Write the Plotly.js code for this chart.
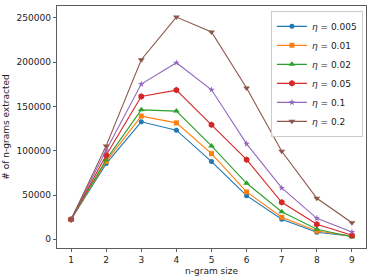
<!DOCTYPE html>
<html><head><meta charset="utf-8">
<script src="https://cdn.plot.ly/plotly-3.0.1.min.js"></script>
<style>html,body{margin:0;padding:0;background:#fff}#c{width:374px;height:280px}</style>
</head><body><div id="c"></div>
<script>
const ngramSize = [1,2,3,4,5,6,7,8,9];
const seriesNames = ["<i>η</i> = 0.005","<i>η</i> = 0.01","<i>η</i> = 0.02","<i>η</i> = 0.05","<i>η</i> = 0.1","<i>η</i> = 0.2"];
const eta0005 = [22500, 85500, 132700, 123300, 87800, 49300, 22600, 7900, 3400];
const eta001  = [22500, 88000, 139100, 131500, 96800, 53500, 24900, 9400, 3800];
const eta002  = [22500, 90000, 146200, 144800, 105500, 63300, 31200, 11300, 3000];
const eta005  = [22500, 95000, 161300, 168500, 129300, 90000, 41800, 17000, 4500];
const eta01   = [22500, 100500, 175300, 199400, 168900, 107800, 58000, 23700, 8300];
const eta02   = [22500, 105500, 202800, 251000, 234100, 170800, 99500, 46400, 18800];
const allSeries = [eta0005, eta001, eta002, eta005, eta01, eta02];
const colors = ["#1f77b4","#ff7f0e","#2ca02c","#d62728","#9467bd","#8c564b"];
const symbols = ["circle","square","triangle-up","hexagon","star","triangle-down"];
const sizes = [5,5,6,6.5,5,6];
const traces = allSeries.map((ys,i)=>({
  x: ngramSize, y: ys, type:'scatter', mode:'lines+markers', name: seriesNames[i],
  line:{color:colors[i], width:1.1},
  marker:{color:colors[i], symbol:symbols[i], size:sizes[i]}
}));
const axFont = {family:'"DejaVu Sans", sans-serif', size:9, color:'#222'};
const layout = {
  width:374, height:280,
  margin:{l:57, r:8, t:6, b:32},
  paper_bgcolor:'#fff', plot_bgcolor:'#fff',
  showlegend:true,
  legend:{x:0.99, y:0.98, xanchor:'right', yanchor:'top', bgcolor:'rgba(255,255,255,0.8)',
    bordercolor:'#ccc', borderwidth:1, font:{family:'"DejaVu Sans", sans-serif', size:9, color:'#222'},
    tracegroupgap:0, itemwidth:30},
  xaxis:{range:[0.6,9.4], tickvals:ngramSize, ticks:'outside', ticklen:3.5, tickwidth:0.8, tickcolor:'#333',
    showline:true, mirror:true, linecolor:'#333', linewidth:0.8, showgrid:false, zeroline:false,
    tickfont:axFont, title:{text:'n-gram size', font:axFont, standoff:3}},
  yaxis:{range:[-9800,263500], tickvals:[0,50000,100000,150000,200000,250000], ticks:'outside', ticklen:3.5,
    tickwidth:0.8, tickcolor:'#333', showline:true, mirror:true, linecolor:'#333', linewidth:0.8,
    showgrid:false, zeroline:false, tickfont:axFont, tickformat:'d',
    title:{text:'# of n-grams extracted', font:axFont, standoff:5}},
  font:axFont
};
Plotly.newPlot('c', traces, layout, {displayModeBar:false, staticPlot:true});
</script></body></html>
